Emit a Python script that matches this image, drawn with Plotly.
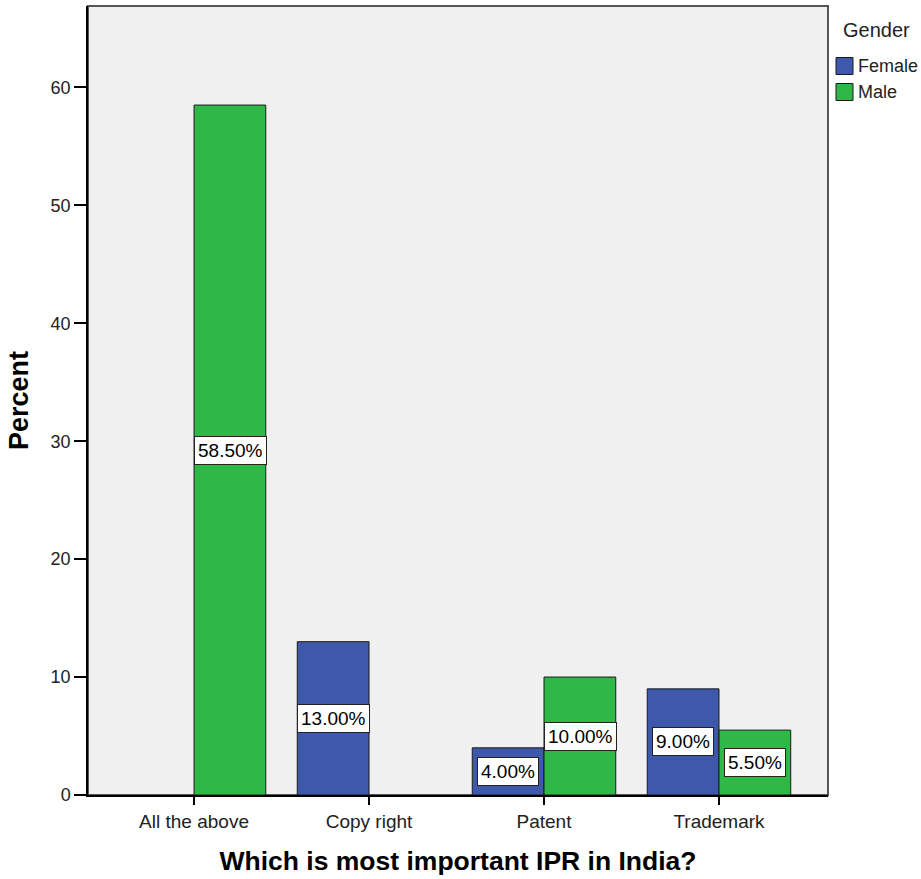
import plotly.graph_objects as go

categories = ["All the above", "Copy right", "Patent", "Trademark"]
female = [None, 13.0, 4.0, 9.0]
male = [58.5, None, 10.0, 5.5]
y_ticks = [0, 10, 20, 30, 40, 50, 60]
series_names = ["Female", "Male"]
series_colors = ["#3E58AC", "#2EB848"]

FONT = "Arial, Liberation Sans, sans-serif"
fig = go.Figure()
for name, vals, col in zip(series_names, [female, male], series_colors):
    fig.add_trace(go.Bar(name=name, x=categories, y=vals, showlegend=False,
                         marker=dict(color=col, line=dict(color="#1a1a1a", width=1))))

# value labels in white boxes
for series, shift in ((female, -36), (male, 36)):
    for c, v in zip(categories, series):
        if v is None:
            continue
        fig.add_annotation(x=c, y=v / 2, xshift=shift, text=f"{v:.2f}%", showarrow=False,
                           bgcolor="white", bordercolor="#222222", borderwidth=1, borderpad=3,
                           font=dict(family=FONT, size=19, color="black"))

# plot frame
fig.add_shape(type="rect", xref="paper", yref="paper", x0=0, y0=0, x1=1, y1=1,
              line=dict(color="#555555", width=2), layer="below")

# legend (drawn manually to match the compact SPSS legend)
W, H = 921, 879
L, R, T, B = 88, 93, 6, 84
pw, ph = W - L - R, H - T - B
def px(x):
    return (x - L) / pw
def py(y):
    return (H - B - y) / ph
fig.add_annotation(xref="paper", yref="paper", x=px(876), y=py(30), text="Gender",
                   showarrow=False, xanchor="center", yanchor="middle",
                   font=dict(family=FONT, size=20, color="#222"))
for i, (name, col) in enumerate(zip(series_names, series_colors)):
    yc = 66 + i * 26
    fig.add_shape(type="rect", xref="paper", yref="paper",
                  x0=px(836), x1=px(853), y0=py(yc - 8.5), y1=py(yc + 8.5),
                  fillcolor=col, line=dict(color="#1a1a1a", width=1))
    fig.add_annotation(xref="paper", yref="paper", x=px(856), y=py(yc), text=name,
                       showarrow=False, xanchor="left", yanchor="middle",
                       font=dict(family=FONT, size=18, color="#222"))

fig.update_layout(
    width=W, height=H,
    margin=dict(l=L, r=R, t=T, b=B, autoexpand=False),
    paper_bgcolor="white", plot_bgcolor="#F0F0F0",
    barmode="group", bargap=0.18, bargroupgap=0,
    font=dict(family=FONT, size=18, color="black"),
    showlegend=False,
)
fig.update_xaxes(range=[-0.606, 3.623], showline=True, linecolor="black", linewidth=1.5,
                 ticks="outside", ticklen=8, tickcolor="black", tickwidth=1.5,
                 showgrid=False, zeroline=False, automargin=False,
                 title=dict(text="<b>Which is most important IPR in India?</b>", font=dict(size=26.5), standoff=21),
                 tickfont=dict(size=19, color="#222"))
fig.update_yaxes(range=[0, 66.9], tickvals=y_ticks, showline=True, linecolor="black", linewidth=1.5,
                 ticks="outside", ticklen=12, tickcolor="black", tickwidth=1.5,
                 showgrid=False, zeroline=False, automargin=False,
                 title=dict(text="<b>Percent</b>", font=dict(size=27), standoff=14),
                 tickfont=dict(size=18, color="#222"))

fig.write_html("out.html", config={"displayModeBar": False},
               post_script="document.body.style.margin='0';")
